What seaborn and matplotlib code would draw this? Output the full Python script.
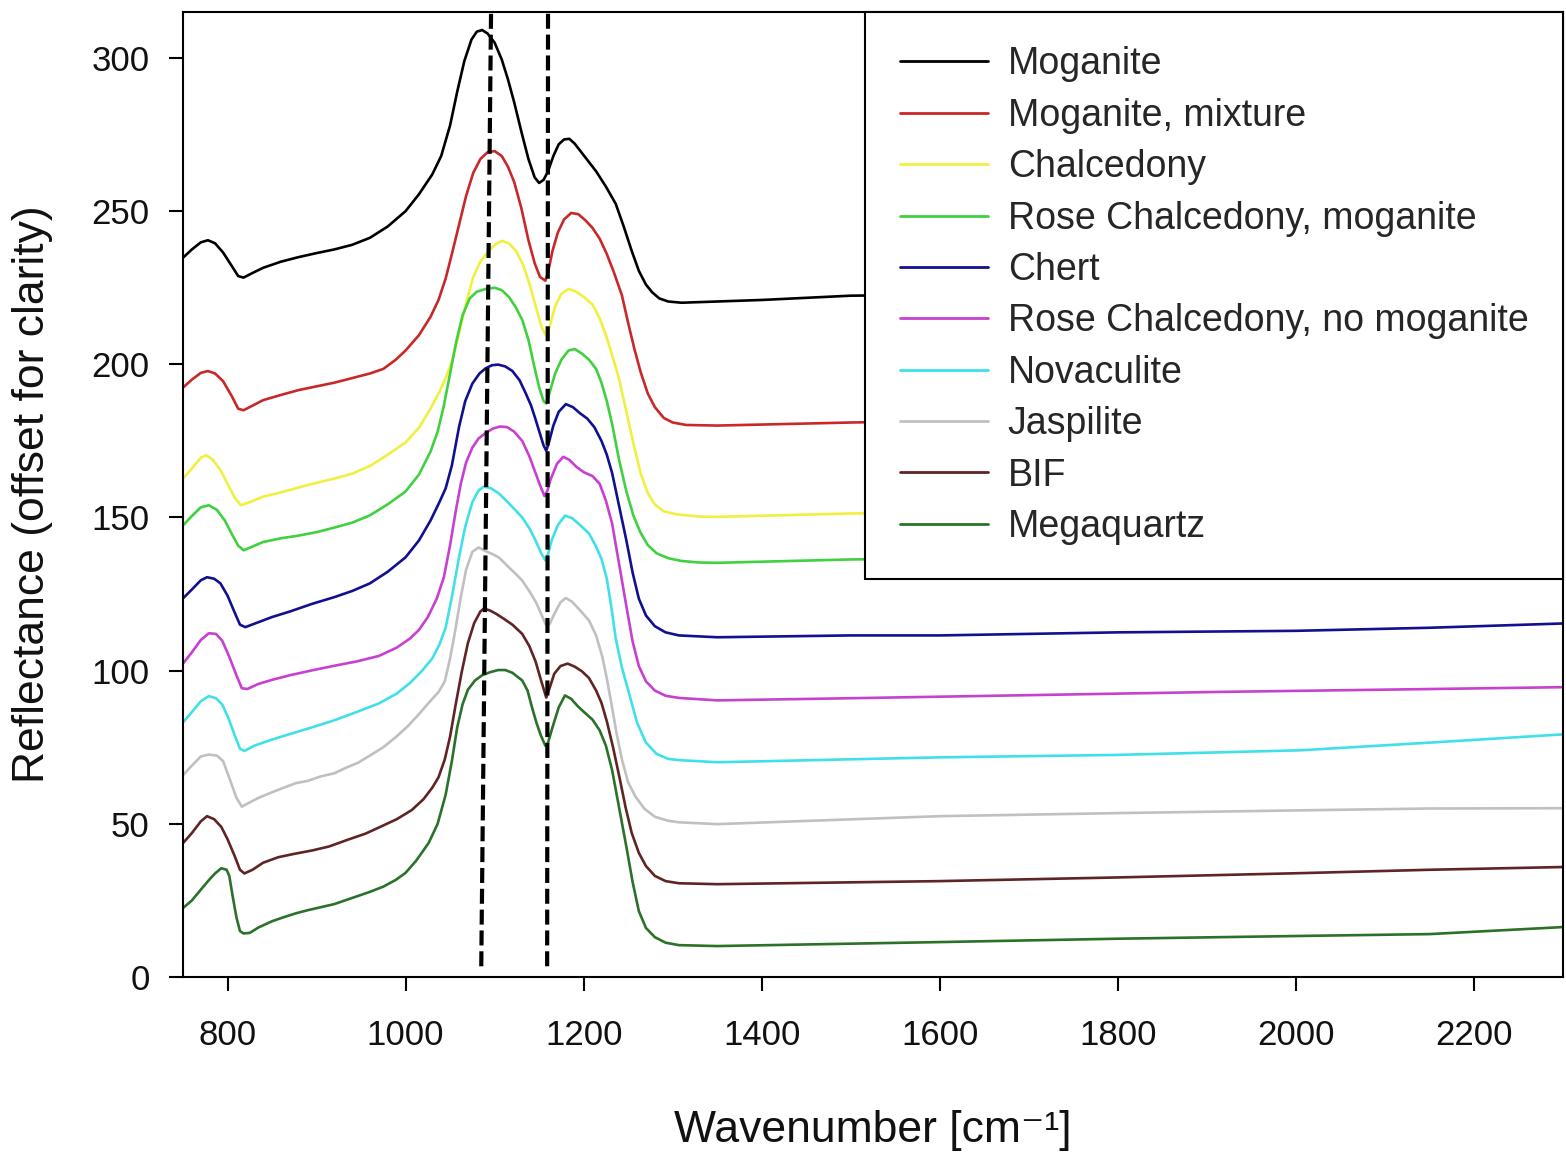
import matplotlib
matplotlib.use("Agg")
import matplotlib.pyplot as plt
import pandas as pd
import seaborn as sns

# ---- spectra: wavenumber (cm^-1) and reflectance (offset for clarity) ----
wn_moganite = [750, 760, 770, 778, 786, 795, 805, 812, 818, 828, 840, 860, 880, 900, 920, 940, 960, 980,
               1000, 1015, 1030, 1040, 1050, 1058, 1066, 1074, 1080, 1086, 1092, 1100, 1108, 1115, 1122,
               1130, 1138, 1145, 1150, 1155, 1160, 1166, 1172, 1178, 1184, 1190, 1198, 1206, 1214, 1225,
               1236, 1245, 1254, 1262, 1270, 1277, 1285, 1295, 1310, 1350, 1400, 1500, 1700, 1900, 2100,
               2300]
r_moganite = [234.8, 237.5, 239.8, 240.5, 239.5, 236.5, 232.0, 228.8, 228.3, 229.8, 231.5, 233.5, 235.0,
              236.3, 237.5, 239.0, 241.3, 245.0, 250.0, 255.5, 262.0, 268.0, 278.0, 289.0, 299.0, 306.0,
              308.6, 309.1, 308.0, 305.0, 299.5, 293.0, 285.5, 276.0, 267.0, 261.0, 259.2, 260.2, 263.0,
              268.0, 271.8, 273.4, 273.6, 272.0, 269.0, 266.0, 263.0, 258.0, 252.4, 245.0, 237.0, 230.5,
              226.0, 223.5, 221.5, 220.5, 220.1, 220.5, 221.0, 222.4, 223.0, 224.0, 225.0, 226.0]

wn_mog_mix = [750, 760, 770, 778, 786, 795, 805, 812, 818, 828, 840, 860, 880, 900, 920, 940, 960, 975,
              989, 1000, 1015, 1028, 1037, 1045, 1052, 1060, 1068, 1076, 1084, 1092, 1100, 1108, 1115,
              1122, 1130, 1138, 1145, 1151, 1157, 1160, 1165, 1171, 1178, 1186, 1194, 1202, 1210, 1218,
              1226, 1234, 1243, 1250, 1257, 1264, 1272, 1280, 1290, 1300, 1315, 1350, 1500, 1700, 1900,
              2100, 2300]
r_mog_mix = [192.4, 195.0, 197.2, 197.8, 197.0, 194.5, 189.5, 185.5, 185.0, 186.5, 188.3, 190.0, 191.6,
             192.8, 194.0, 195.5, 197.0, 198.5, 201.5, 204.5, 209.5, 215.5, 221.0, 228.0, 236.0, 245.5,
             255.0, 262.5, 267.0, 269.2, 269.6, 268.0, 264.5, 259.5, 251.0, 240.5, 233.0, 228.5, 227.3,
             230.0, 237.0, 243.0, 247.3, 249.4, 249.0, 247.0, 244.5, 241.0, 236.0, 230.0, 222.5, 213.5,
             205.0, 197.5, 190.5, 186.0, 182.5, 181.0, 180.2, 180.0, 181.0, 182.0, 183.0, 184.0, 185.0]

wn_chalcedony = [750, 760, 770, 776, 783, 792, 800, 808, 815, 825, 840, 860, 880, 900, 920, 940, 960, 980,
                 1000, 1015, 1028, 1038, 1045, 1052, 1060, 1068, 1076, 1084, 1092, 1100, 1108, 1116, 1124,
                 1132, 1140, 1147, 1153, 1158, 1162, 1168, 1175, 1183, 1191, 1200, 1210, 1218, 1225, 1232,
                 1240, 1248, 1256, 1264, 1272, 1280, 1290, 1305, 1330, 1350, 1500, 1700, 1900, 2100, 2300]
r_chalcedony = [162.7, 166.0, 169.5, 170.3, 169.0, 165.5, 161.0, 156.5, 154.0, 155.0, 156.8, 158.2, 159.8,
                161.3, 162.7, 164.3, 166.8, 170.5, 174.5, 179.3, 185.5, 191.0, 195.5, 201.0, 210.0, 220.0,
                228.5, 233.5, 236.5, 239.0, 240.3, 239.5, 237.0, 232.5, 225.5, 218.0, 212.0, 209.3, 212.5,
                219.0, 223.0, 224.6, 223.8, 222.0, 219.5, 215.0, 209.5, 203.0, 195.0, 184.5, 174.0, 164.5,
                158.0, 154.2, 152.0, 151.0, 150.3, 150.2, 151.3, 152.0, 153.0, 154.0, 155.0]

wn_rose_mog = [750, 760, 770, 779, 788, 797, 805, 812, 818, 828, 840, 860, 880, 900, 920, 940, 960, 980,
               1000, 1015, 1028, 1036, 1043, 1050, 1057, 1064, 1072, 1080, 1090, 1100, 1108, 1116, 1124,
               1131, 1138, 1144, 1150, 1155, 1158, 1162, 1168, 1175, 1183, 1190, 1198, 1206, 1214, 1220,
               1226, 1232, 1240, 1248, 1256, 1264, 1272, 1282, 1295, 1310, 1330, 1350, 1500, 1700, 1900,
               2100, 2300]
r_rose_mog = [147.4, 150.5, 153.3, 154.0, 152.5, 149.0, 144.5, 140.8, 139.3, 140.5, 142.0, 143.2, 144.1,
              145.2, 146.7, 148.3, 150.7, 154.3, 158.5, 164.0, 171.5, 178.0, 186.5, 197.0, 207.5, 216.0,
              221.5, 223.7, 224.6, 225.0, 224.2, 222.0, 218.5, 214.5, 208.0, 200.0, 192.5, 188.0, 187.2,
              191.0, 197.0, 201.5, 204.5, 205.0, 203.5, 201.5, 198.5, 194.0, 188.0, 180.5, 168.5, 158.5,
              150.5, 145.0, 141.0, 138.3, 136.7, 135.8, 135.3, 135.2, 136.3, 137.0, 138.0, 139.0, 140.0]

wn_chert = [750, 760, 770, 777, 785, 792, 800, 808, 814, 820, 830, 850, 870, 895, 920, 940, 960, 980, 1000,
            1015, 1028, 1038, 1045, 1052, 1060, 1067, 1075, 1083, 1090, 1097, 1104, 1112, 1120, 1128, 1135,
            1141, 1146, 1151, 1155, 1158, 1161, 1166, 1172, 1180, 1188, 1196, 1204, 1212, 1220, 1226,
            1232, 1240, 1248, 1255, 1262, 1270, 1280, 1292, 1307, 1350, 1500, 1600, 1800, 2000, 2150, 2300]
r_chert = [123.6, 126.5, 129.5, 130.5, 130.0, 128.5, 124.5, 119.0, 115.0, 114.2, 115.3, 117.5, 119.3,
           121.8, 124.0, 126.0, 128.5, 132.3, 137.0, 142.5, 149.0, 155.0, 159.5, 167.0, 179.5, 188.0,
           193.7, 197.0, 198.7, 199.7, 199.9, 199.3, 197.8, 194.8, 190.5, 186.5, 182.0, 177.3, 173.5,
           171.8, 174.5, 180.0, 184.5, 187.0, 186.0, 184.0, 182.3, 179.5, 175.0, 170.5, 164.5, 153.5,
           142.5, 132.0, 123.5, 118.0, 114.5, 112.5, 111.5, 110.9, 111.5, 111.5, 112.5, 113.0, 114.0, 115.4]

wn_rose_nomog = [750, 760, 770, 779, 787, 794, 802, 810, 816, 822, 835, 850, 870, 895, 920, 945, 970, 990,
                 1005, 1015, 1025, 1035, 1043, 1050, 1056, 1062, 1068, 1075, 1082, 1090, 1098, 1106, 1114,
                 1122, 1131, 1139, 1146, 1151, 1156, 1159, 1163, 1170, 1177, 1184, 1192, 1200, 1210, 1218,
                 1225, 1232, 1240, 1248, 1255, 1262, 1270, 1280, 1292, 1307, 1350, 1500, 1700, 1900, 2100,
                 2300]
r_rose_nomog = [102.3, 106.0, 110.0, 112.2, 112.0, 109.8, 104.5, 98.5, 94.3, 94.0, 95.7, 97.0, 98.5,
                100.1, 101.6, 103.0, 104.8, 107.5, 110.5, 113.3, 117.5, 123.5, 130.5, 141.0, 151.5, 161.0,
                168.0, 172.8, 175.8, 177.6, 179.0, 179.7, 179.5, 178.0, 175.0, 170.0, 164.5, 160.5, 157.0,
                158.5, 162.5, 167.5, 169.8, 168.8, 166.5, 164.8, 163.5, 161.0, 155.5, 148.0, 134.5, 121.0,
                109.5, 101.5, 96.5, 93.5, 91.8, 91.1, 90.3, 91.0, 92.0, 93.0, 93.8, 94.6]

wn_novaculite = [750, 760, 770, 779, 787, 794, 801, 808, 814, 819, 830, 850, 870, 895, 920, 945, 970, 990,
                 1005, 1018, 1030, 1038, 1045, 1052, 1060, 1067, 1075, 1082, 1088, 1096, 1105, 1114, 1123,
                 1131, 1139, 1146, 1152, 1157, 1160, 1164, 1171, 1179, 1187, 1196, 1206, 1214, 1220, 1226,
                 1231, 1236, 1243, 1251, 1260, 1270, 1282, 1295, 1307, 1350, 1600, 1800, 2005, 2150, 2300]
r_novaculite = [83.1, 86.5, 90.0, 91.7, 91.0, 89.0, 84.5, 79.0, 74.5, 73.8, 75.5, 77.5, 79.3, 81.5, 83.8,
                86.5, 89.3, 92.5, 96.0, 99.8, 104.0, 108.5, 114.0, 124.0, 137.0, 147.0, 155.0, 158.8,
                160.1, 159.5, 157.8, 155.2, 152.5, 150.0, 146.5, 142.5, 138.5, 136.0, 138.0, 142.5, 147.5,
                150.6, 149.8, 147.5, 144.8, 140.5, 136.5, 130.0, 121.0, 110.5, 101.0, 92.6, 83.0, 76.5,
                72.8, 71.2, 70.8, 70.1, 71.7, 72.5, 74.0, 76.5, 79.2]

wn_jaspilite = [750, 760, 770, 779, 788, 795, 802, 810, 816, 825, 835, 850, 865, 877, 890, 905, 920, 933,
                947, 960, 975, 989, 1003, 1015, 1026, 1037, 1044, 1050, 1056, 1062, 1068, 1075, 1082, 1090,
                1098, 1105, 1115, 1124, 1131, 1140, 1147, 1153, 1158, 1162, 1167, 1174, 1180, 1187, 1195,
                1206, 1214, 1221, 1226, 1231, 1237, 1243, 1250, 1258, 1268, 1280, 1295, 1307, 1350, 1600,
                1800, 2005, 2150, 2300]
r_jaspilite = [65.9, 69.0, 72.0, 72.6, 72.3, 70.5, 65.0, 58.5, 55.6, 57.0, 58.5, 60.3, 62.0, 63.3, 64.0,
               65.5, 66.5, 68.3, 70.0, 72.3, 75.0, 78.3, 82.0, 85.8, 89.5, 93.0, 96.5, 104.0, 113.5,
               124.0, 133.0, 138.8, 140.2, 139.0, 138.0, 136.9, 134.0, 131.5, 129.4, 125.5, 122.0, 118.0,
               114.8, 115.3, 118.5, 122.3, 123.7, 122.5, 120.0, 116.4, 111.5, 104.5, 97.5, 89.5, 79.5,
               71.0, 63.5, 59.0, 55.0, 52.3, 51.0, 50.5, 49.9, 52.5, 53.5, 54.4, 55.0, 55.1]

wn_bif = [750, 760, 770, 777, 785, 793, 800, 808, 814, 819, 828, 840, 857, 875, 895, 914, 935, 955, 970,
          990, 1007, 1020, 1030, 1037, 1044, 1050, 1056, 1063, 1070, 1077, 1084, 1088, 1095, 1102, 1110,
          1120, 1131, 1139, 1146, 1152, 1158, 1162, 1167, 1174, 1182, 1190, 1198, 1206, 1214, 1220, 1226,
          1233, 1240, 1247, 1254, 1262, 1270, 1280, 1292, 1307, 1350, 1600, 1800, 2005, 2150, 2300]
r_bif = [43.7, 47.0, 50.8, 52.5, 51.5, 49.0, 45.0, 39.5, 35.0, 33.8, 35.0, 37.3, 39.1, 40.2, 41.3, 42.6,
         44.8, 46.8, 48.8, 51.5, 54.5, 58.0, 61.8, 65.2, 71.0, 78.5, 88.5, 99.5, 109.0, 115.5, 119.3,
         120.3, 119.6, 118.5, 117.0, 115.0, 112.0, 108.0, 103.0, 97.0, 91.2, 94.5, 99.0, 101.5, 102.3,
         101.3, 99.8, 97.6, 93.5, 89.5, 83.5, 75.0, 65.5, 55.5, 47.0, 40.5, 36.2, 33.0, 31.3, 30.6, 30.3,
         31.3, 32.5, 33.9, 35.0, 35.9]

wn_megaquartz = [750, 760, 770, 779, 786, 793, 799, 802, 806, 810, 814, 818, 825, 835, 850, 865, 877, 890,
                 905, 920, 933, 947, 960, 975, 989, 1000, 1012, 1026, 1036, 1045, 1052, 1058, 1064, 1070,
                 1078, 1086, 1095, 1104, 1112, 1120, 1131, 1137, 1142, 1147, 1152, 1157, 1160, 1165, 1172,
                 1179, 1186, 1193, 1200, 1210, 1218, 1225, 1232, 1240, 1248, 1255, 1262, 1270, 1280, 1292,
                 1307, 1350, 1600, 1800, 2005, 2150, 2300]
r_megaquartz = [22.5, 25.0, 28.5, 31.6, 33.8, 35.5, 35.0, 33.0, 26.0, 19.5, 15.0, 14.2, 14.4, 16.2, 18.2,
                19.7, 20.8, 21.8, 22.8, 23.8, 25.1, 26.5, 27.8, 29.5, 31.7, 34.0, 38.0, 43.8, 50.0, 59.5,
                70.5, 81.5, 89.0, 93.8, 96.8, 98.5, 99.5, 100.2, 100.2, 99.3, 96.8, 93.5, 88.0, 83.0,
                78.8, 75.5, 76.5, 81.5, 88.0, 91.9, 90.8, 88.5, 86.6, 84.0, 80.5, 75.5, 67.5, 55.0, 42.5,
                31.0, 21.5, 16.0, 13.0, 11.2, 10.4, 10.1, 11.4, 12.5, 13.4, 14.0, 16.3]

samples = ["Moganite", "Moganite, mixture", "Chalcedony", "Rose Chalcedony, moganite", "Chert",
           "Rose Chalcedony, no moganite", "Novaculite", "Jaspilite", "BIF", "Megaquartz"]
wavenumbers = [wn_moganite, wn_mog_mix, wn_chalcedony, wn_rose_mog, wn_chert,
               wn_rose_nomog, wn_novaculite, wn_jaspilite, wn_bif, wn_megaquartz]
reflectances = [r_moganite, r_mog_mix, r_chalcedony, r_rose_mog, r_chert,
                r_rose_nomog, r_novaculite, r_jaspilite, r_bif, r_megaquartz]
colors = ["#000000", "#c82828", "#f0f040", "#40d040", "#101090",
          "#c840d0", "#40e0e8", "#c0c0c0", "#602424", "#2a722a"]

# dashed reference bands: x at the bottom / top end of each line, and the y extent
band_x_bottom = [1085, 1159]
band_x_top = [1096, 1160]
band_y = [3.5, 315]

# ---- long-form table ----
frames = []
for name, wn, r in zip(samples, wavenumbers, reflectances):
    frames.append(pd.DataFrame({"Wavenumber": wn, "Reflectance": r, "Sample": name}))
df = pd.concat(frames, ignore_index=True)

sns.set_theme(style="white")
plt.rcParams["font.family"] = ["Liberation Sans", "DejaVu Sans"]

fig = plt.figure(figsize=(15.66, 11.57), dpi=100)
ax = fig.add_axes([183 / 1566, 1 - 977 / 1157, 1380 / 1566, 965 / 1157])

sns.lineplot(data=df, x="Wavenumber", y="Reflectance", hue="Sample", hue_order=samples,
             palette=dict(zip(samples, colors)), estimator=None, sort=False,
             linewidth=1.9, ax=ax)

for xb, xt in zip(band_x_bottom, band_x_top):
    ax.plot([xb, xt], band_y, color="black", lw=3.0, ls=(0, (3.6, 1.4)), zorder=5)

ax.set_xlim(750, 2300)
ax.set_ylim(0, 315)
ax.set_xticks([800, 1000, 1200, 1400, 1600, 1800, 2000, 2200])
ax.set_yticks([0, 50, 100, 150, 200, 250, 300])

for s in ax.spines.values():
    s.set_visible(True)
    s.set_color("black")
    s.set_linewidth(1.5)

ax.tick_params(axis="both", direction="out", length=10, width=1.5, color="black",
               labelsize=25, labelcolor="#111111", bottom=True, left=True)
ax.tick_params(axis="x", pad=20)
ax.tick_params(axis="y", pad=14)

ax.set_xlabel("Wavenumber [cm\u207b\u00b9]", fontsize=32, color="#111111")
ax.set_ylabel("Reflectance (offset for clarity)", fontsize=32, color="#111111")
ax.xaxis.set_label_coords(0.5, -0.138)
ax.xaxis.label.set_va("top")
ax.yaxis.set_label_coords(-0.094, 0.5)

sns.move_legend(ax, "upper right", bbox_to_anchor=(1.0, 1.0), title=None, frameon=True,
                fontsize=27, handlelength=2.35, handletextpad=0.53, labelspacing=0.41,
                borderpad=0.92, borderaxespad=0, fancybox=False, framealpha=1)
leg = ax.get_legend()
leg.get_frame().set_edgecolor("black")
leg.get_frame().set_linewidth(1.5)
leg.set_zorder(10)
for line in leg.get_lines():
    line.set_linewidth(2.0)

fig.savefig("out.png", dpi=100, facecolor="white")
